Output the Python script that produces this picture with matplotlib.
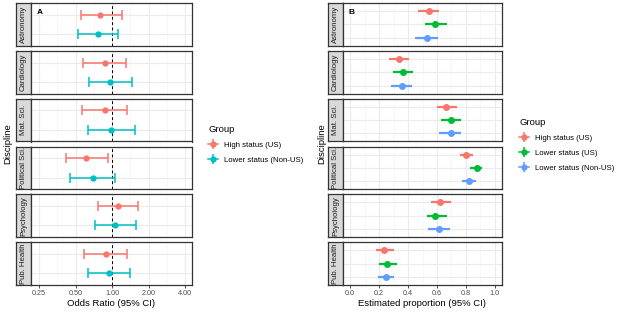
import matplotlib
matplotlib.use("Agg")
import matplotlib.pyplot as plt
from matplotlib.lines import Line2D
from matplotlib.legend_handler import HandlerTuple
import numpy as np

plt.rcParams["font.family"] = ["Liberation Sans", "DejaVu Sans"]

# ---- data ----
disciplines = ["Astronomy", "Cardiology", "Mat. Sci.", "Political Sci.", "Psychology", "Pub. Health"]

# Panel A: odds ratios (95% CI)
groups_a = ["High status (US)", "Lower status (Non-US)"]
or_high = [0.80, 0.87, 0.87, 0.615, 1.11, 0.89]
or_high_lo = [0.55, 0.58, 0.57, 0.415, 0.76, 0.59]
or_high_hi = [1.21, 1.30, 1.34, 0.93, 1.63, 1.34]
or_low = [0.76, 0.96, 0.975, 0.69, 1.06, 0.94]
or_low_lo = [0.52, 0.65, 0.63, 0.45, 0.72, 0.63]
or_low_hi = [1.13, 1.45, 1.54, 1.05, 1.57, 1.41]

# Panel B: estimated proportions (95% CI)
groups_b = ["High status (US)", "Lower status (US)", "Lower status (Non-US)"]
p_high = [0.542, 0.338, 0.662, 0.803, 0.618, 0.236]
p_high_lo = [0.468, 0.266, 0.597, 0.762, 0.560, 0.181]
p_high_hi = [0.616, 0.405, 0.738, 0.850, 0.699, 0.306]
p_lowus = [0.588, 0.368, 0.694, 0.875, 0.588, 0.255]
p_lowus_lo = [0.514, 0.296, 0.627, 0.831, 0.528, 0.201]
p_lowus_hi = [0.667, 0.435, 0.769, 0.914, 0.667, 0.322]
p_nonus = [0.530, 0.356, 0.694, 0.824, 0.611, 0.245]
p_nonus_lo = [0.451, 0.285, 0.616, 0.771, 0.537, 0.190]
p_nonus_hi = [0.606, 0.424, 0.769, 0.873, 0.688, 0.306]

colors_a = ["#F8766D", "#00BFC4"]
colors_b = ["#F8766D", "#00BA38", "#619CFF"]

W, H = 617, 313
fig = plt.figure(figsize=(W / 100, H / 100), dpi=100)


def ax_px(x0, y0, x1, y1):
    # pixel box (top-left origin) -> figure axes
    return fig.add_axes([x0 / W, 1 - y1 / H, (x1 - x0) / W, (y1 - y0) / H])


top, bottom, gap = 3, 285, 5
ph = (bottom - top - gap * 5) / 6
panel_y = [(top + i * (ph + gap), top + i * (ph + gap) + ph) for i in range(6)]

GRID = "#EBEBEB"
BORDER = "#333333"


def style_panel(ax, n, show_x):
    ax.set_ylim(n - 1 + 0.6, -0.6)
    ax.set_yticks(range(n))
    ax.tick_params(axis="y", length=0, labelleft=False)
    ax.grid(True, which="major", color=GRID, lw=0.8)
    ax.grid(True, which="minor", axis="x", color="#F4F4F4", lw=0.5)
    ax.set_axisbelow(True)
    for s in ax.spines.values():
        s.set_color(BORDER)
        s.set_linewidth(0.9)
    ax.tick_params(axis="x", which="major", length=2 if show_x else 0, width=0.6,
                   color=BORDER, labelsize=5.2, labelcolor="#4D4D4D", pad=1.5,
                   labelbottom=show_x)
    ax.tick_params(axis="x", which="minor", length=0)


def strip(x0, x1, y0, y1, label):
    s = ax_px(x0, y0, x1, y1)
    s.set_facecolor("#D9D9D9")
    s.set_xticks([])
    s.set_yticks([])
    for sp in s.spines.values():
        sp.set_color(BORDER)
        sp.set_linewidth(0.9)
    s.text(0.5, 0.5, label, rotation=90, ha="center", va="center",
           fontsize=5.6, color="#1A1A1A", transform=s.transAxes)


# ---- Panel A ----
a_series = [(or_high, or_high_lo, or_high_hi), (or_low, or_low_lo, or_low_hi)]
for i, d in enumerate(disciplines):
    y0, y1 = panel_y[i]
    strip(16, 31, y0, y1, d)
    ax = ax_px(31, y0, 192, y1)
    ax.set_xscale("log", base=2)
    ax.set_xlim(2 ** -2.22, 2 ** 2.19)
    ax.set_xticks([0.25, 0.5, 1, 2, 4])
    ax.set_xticklabels(["0.25", "0.50", "1.00", "2.00", "4.00"])
    ax.set_xticks([0.25 * 2 ** 0.5, 0.5 * 2 ** 0.5, 2 ** 0.5, 2 * 2 ** 0.5], minor=True)
    ax.xaxis.set_minor_formatter(plt.NullFormatter())
    style_panel(ax, 2, i == 5)
    ax.axvline(1, color="black", lw=0.7, ls=(0, (3, 2.5)), zorder=1)
    for g, (pt, lo, hi) in enumerate(a_series):
        ax.errorbar(pt[i], g, xerr=[[pt[i] - lo[i]], [hi[i] - pt[i]]], fmt="o",
                    color=colors_a[g], ms=3.5, elinewidth=1.1, capsize=3.5,
                    capthick=1.1, zorder=3)
    if i == 0:
        ax.text(0.035, 0.78, "A", transform=ax.transAxes, fontsize=6,
                fontweight="bold", ha="left", va="center")
    if i == 5:
        ax.set_xlabel("Odds Ratio (95% CI)", fontsize=6.8, labelpad=1.5)

fig.text(8 / W, 1 - 144 / H, "Discipline", rotation=90, ha="center", va="center", fontsize=6.8)

# ---- Panel B ----
b_series = [(p_high, p_high_lo, p_high_hi), (p_lowus, p_lowus_lo, p_lowus_hi),
            (p_nonus, p_nonus_lo, p_nonus_hi)]
for i, d in enumerate(disciplines):
    y0, y1 = panel_y[i]
    strip(328, 343, y0, y1, d)
    ax = ax_px(343, y0, 502, y1)
    ax.set_xlim(-0.05, 1.05)
    ax.set_xticks(np.arange(0, 1.01, 0.2))
    ax.set_xticklabels(["0.0", "0.2", "0.4", "0.6", "0.8", "1.0"])
    ax.set_xticks(np.arange(0.1, 1.0, 0.2), minor=True)
    style_panel(ax, 3, i == 5)
    for g, (pt, lo, hi) in enumerate(b_series):
        ax.hlines(g, lo[i], hi[i], color=colors_b[g], lw=1.6, zorder=3)
        ax.plot(pt[i], g, "o", color=colors_b[g], ms=4, zorder=4)
    if i == 0:
        ax.text(0.035, 0.78, "B", transform=ax.transAxes, fontsize=6,
                fontweight="bold", ha="left", va="center")
    if i == 5:
        ax.set_xlabel("Estimated proportion (95% CI)", fontsize=6.8, labelpad=1.5)

fig.text(322 / W, 1 - 144 / H, "Discipline", rotation=90, ha="center", va="center", fontsize=6.8)


# ---- legends ----
def handles(colors):
    return [(Line2D([], [], color=c, lw=1.1, marker="o", ms=3.5),
             Line2D([], [], color=c, ls="none", marker="|", ms=7, mew=1.1)) for c in colors]


common = dict(title="Group", loc="upper left", frameon=False, fontsize=5.6,
              title_fontsize=6.8, handlelength=1.3, handletextpad=0.7,
              labelspacing=0.95, alignment="left",
              handler_map={tuple: HandlerTuple(ndivide=1)})
fig.legend(handles(colors_a), groups_a, bbox_to_anchor=(201 / W, 1 - 118 / H), **common)
fig.legend(handles(colors_b), groups_b, bbox_to_anchor=(512 / W, 1 - 111 / H), **common)

fig.savefig("out.png", dpi=100)
